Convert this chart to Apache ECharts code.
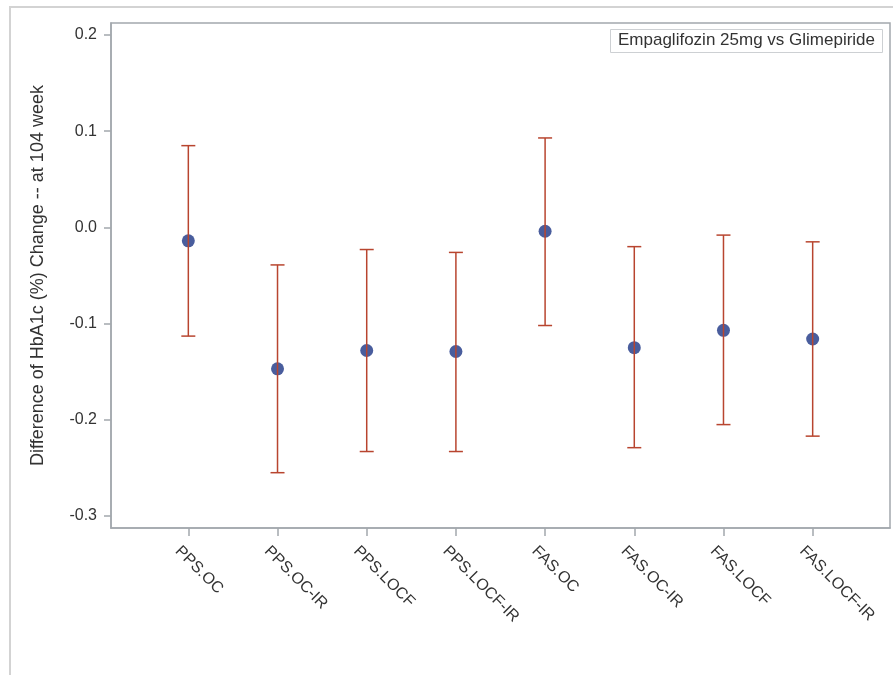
<!DOCTYPE html>
<html>
<head>
<meta charset="utf-8">
<script src="https://cdn.jsdelivr.net/npm/echarts@6/dist/echarts.min.js"></script>
<style>
  html, body { margin: 0; padding: 0; background: #fff; }
  #chart { width: 893px; height: 675px; }
</style>
</head>
<body>
<div id="chart"></div>
<script>
// Analysis sets / imputation methods along the x axis
const categories = ['PPS.OC', 'PPS.OC-IR', 'PPS.LOCF', 'PPS.LOCF-IR', 'FAS.OC', 'FAS.OC-IR', 'FAS.LOCF', 'FAS.LOCF-IR'];
// Point estimate of the treatment difference
const estimates = [-0.014, -0.147, -0.128, -0.129, -0.004, -0.125, -0.107, -0.116];
// Confidence interval bounds
const lowerCI = [-0.113, -0.255, -0.233, -0.233, -0.102, -0.229, -0.205, -0.217];
const upperCI = [0.085, -0.039, -0.023, -0.026, 0.093, -0.020, -0.008, -0.015];
// Y axis tick labels
const yTicks = [-0.3, -0.2, -0.1, 0.0, 0.1, 0.2];

const FONT = '"Liberation Sans", Arial, sans-serif';
const TEXT = '#333333';
const AXIS = '#a3a8ad';
const BAR = '#b8452f';
const DOT = '#1b3584';

const xIdx = categories.map((_, i) => i);

const chart = echarts.init(document.getElementById('chart'), null, { renderer: 'canvas' });

chart.setOption({
  animation: false,
  backgroundColor: '#ffffff',
  title: {
    text: 'Empaglifozin 25mg vs Glimepiride',
    right: 10,
    top: 29,
    padding: [3, 8, 4, 8],
    borderWidth: 1,
    borderColor: '#cdd0d3',
    textStyle: { fontFamily: FONT, fontSize: 17, fontWeight: 'normal', color: TEXT }
  },
  graphic: [{
    type: 'rect',
    shape: { x: 10, y: 7, width: 1000, height: 1000 },
    style: { fill: 'none', stroke: '#d3d3d3', lineWidth: 2 },
    silent: true,
    z: -10
  }],
  grid: { left: 111, top: 23, right: 3, bottom: 147, show: true, borderColor: AXIS, borderWidth: 1.5 },
  xAxis: {
    type: 'value',
    min: -0.867,
    max: 7.867,
    splitLine: { show: false },
    axisLine: { show: true, onZero: false, lineStyle: { color: AXIS, width: 1.5 } },
    axisTick: { show: true, customValues: xIdx, length: 8, lineStyle: { color: AXIS, width: 1.5 } },
    axisLabel: {
      customValues: xIdx,
      rotate: -45,
      margin: 10,
      verticalAlign: 'top',
      padding: [7, 0, 0, 0],
      fontFamily: FONT,
      fontSize: 16,
      color: TEXT,
      formatter: v => categories[Math.round(v)]
    }
  },
  yAxis: {
    type: 'value',
    min: -0.3125,
    max: 0.2125,
    name: 'Difference of HbA1c (%) Change -- at 104 week',
    nameLocation: 'middle',
    nameGap: 64,
    nameTextStyle: { fontFamily: FONT, fontSize: 18, color: TEXT },
    splitLine: { show: false },
    axisLine: { show: true, onZero: false, lineStyle: { color: AXIS, width: 1.5 } },
    axisTick: { show: true, customValues: yTicks, length: 7, lineStyle: { color: AXIS, width: 1.5 } },
    axisLabel: {
      customValues: yTicks,
      margin: 14,
      fontFamily: FONT,
      fontSize: 16,
      color: TEXT,
      formatter: v => v.toFixed(1)
    }
  },
  series: [
    {
      type: 'scatter',
      data: estimates.map((v, i) => [i, v]),
      symbol: 'circle',
      symbolSize: 13,
      itemStyle: { color: DOT },
      z: 2
    },
    {
      type: 'custom',
      data: categories.map((_, i) => [i, lowerCI[i], upperCI[i]]),
      z: 3,
      renderItem: (params, api) => {
        const x = api.value(0);
        const lo = api.coord([x, api.value(1)]);
        const hi = api.coord([x, api.value(2)]);
        const half = 7;
        const style = { stroke: BAR, lineWidth: 1.5, fill: 'none' };
        return {
          type: 'group',
          children: [
            { type: 'line', shape: { x1: lo[0], y1: lo[1], x2: hi[0], y2: hi[1] }, style },
            { type: 'line', shape: { x1: lo[0] - half, y1: lo[1], x2: lo[0] + half, y2: lo[1] }, style },
            { type: 'line', shape: { x1: hi[0] - half, y1: hi[1], x2: hi[0] + half, y2: hi[1] }, style }
          ]
        };
      }
    }
  ]
});
</script>
</body>
</html>
